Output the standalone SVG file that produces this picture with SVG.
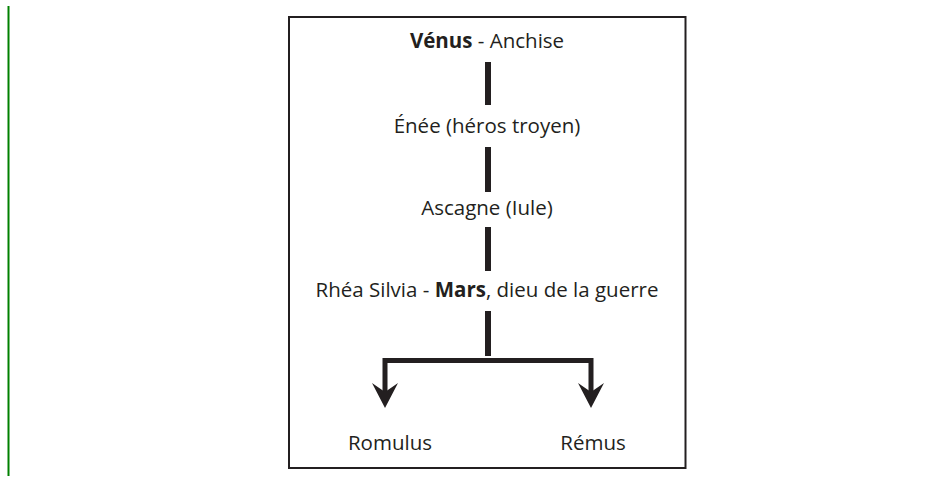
<svg xmlns="http://www.w3.org/2000/svg" width="951" height="477" viewBox="0 0 951 477">
  <style>
    text { font-family: "Open Sans", "Noto Sans", sans-serif; font-size: 20.5px; fill: #231f20; text-anchor: middle; }
    .b { font-weight: 700; }
    .bar { stroke: #231f20; stroke-width: 6; fill: none; }
    .con { stroke: #231f20; stroke-width: 5; fill: none; stroke-linejoin: miter; }
  </style>
  <defs>
    <marker id="arrow" markerUnits="userSpaceOnUse" viewBox="-10 -14 28 28" markerWidth="28" markerHeight="28" refX="0" refY="0" orient="auto">
      <path d="M16,0 L-9,-13 L0,0 L-9,13 Z" fill="#231f20"/>
    </marker>
  </defs>
  <rect width="951" height="477" fill="#ffffff"/>
  <line x1="8.5" y1="6" x2="8.5" y2="476" stroke="#008000" stroke-width="2"/>
  <rect x="289" y="17" width="396.5" height="451" fill="none" stroke="#231f20" stroke-width="2"/>
  <g id="connectors">
    <line class="bar" x1="488" y1="62" x2="488" y2="105"/>
    <line class="bar" x1="488" y1="147" x2="488" y2="192"/>
    <line class="bar" x1="488" y1="227" x2="488" y2="271"/>
    <line class="bar" x1="488" y1="311" x2="488" y2="356"/>
    <path class="con" d="M385,393 L385,360.5 L591,360.5 L591,393"/>
    <line x1="385" y1="385" x2="385" y2="392" stroke="none" marker-end="url(#arrow)"/>
    <line x1="591" y1="385" x2="591" y2="392" stroke="none" marker-end="url(#arrow)"/>
  </g>
  <g id="venus"><text x="487" y="48"><tspan class="b">Vénus</tspan> - Anchise</text></g>
  <g id="enee"><text x="487" y="133">Énée (héros troyen)</text></g>
  <g id="ascagne"><text x="487" y="215">Ascagne (Iule)</text></g>
  <g id="rhea"><text x="487" y="297">Rhéa Silvia - <tspan class="b">Mars</tspan>, dieu de la guerre</text></g>
  <g id="romulus"><text x="390" y="450">Romulus</text></g>
  <g id="remus"><text x="593" y="450">Rémus</text></g>
</svg>
